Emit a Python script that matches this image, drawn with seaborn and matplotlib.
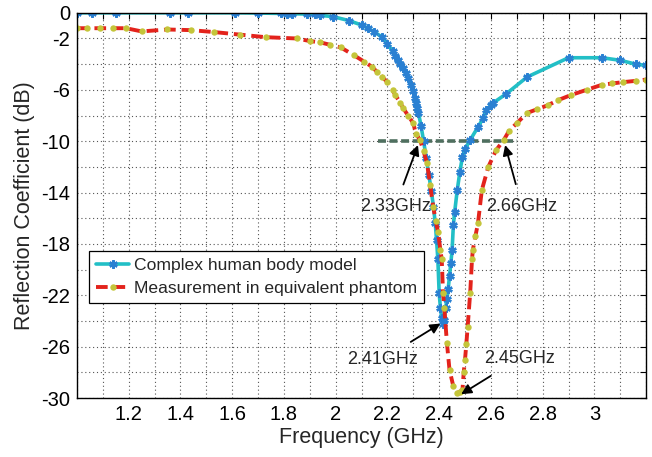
import numpy as np
import pandas as pd
import matplotlib
matplotlib.use("Agg")
import matplotlib.pyplot as plt
import seaborn as sns

# Complex human body model (simulation)
sim_freq = [1.00, 1.06, 1.15, 1.36, 1.43, 1.61, 1.70, 1.79, 1.81, 1.83, 1.89, 1.92,
            1.94, 1.99, 2.05, 2.10, 2.125, 2.15, 2.18, 2.20, 2.22, 2.23, 2.24, 2.25,
            2.26, 2.27, 2.28, 2.29, 2.30, 2.305, 2.31, 2.315, 2.32, 2.33, 2.34, 2.35,
            2.36, 2.37, 2.378, 2.385, 2.39, 2.395, 2.40, 2.405, 2.41, 2.415, 2.42,
            2.425, 2.43, 2.435, 2.44, 2.445, 2.45, 2.455, 2.46, 2.47, 2.48, 2.49,
            2.50, 2.52, 2.55, 2.57, 2.58, 2.60, 2.61, 2.66, 2.74, 2.90, 3.03, 3.10,
            3.16, 3.20]
sim_db = [0.0, 0.0, 0.0, 0.0, 0.0, 0.0, -0.02, -0.05, -0.06, -0.07, -0.1, -0.12,
          -0.2, -0.3, -0.6, -0.95, -1.2, -1.5, -1.9, -2.4, -3.0, -3.4, -3.7, -4.0,
          -4.3, -4.7, -5.1, -5.6, -6.1, -6.6, -7.0, -7.4, -7.8, -8.8, -10.0, -11.3,
          -12.6, -13.9, -15.1, -16.4, -17.7, -19.2, -21.8, -23.0, -23.8, -24.2, -23.9,
          -23.0, -22.3, -21.5, -20.5, -19.5, -18.5, -16.5, -15.5, -13.8, -12.4, -11.2,
          -10.6, -9.9, -8.9, -8.2, -7.6, -7.2, -7.0, -6.3, -5.0, -3.5, -3.5, -3.7,
          -4.0, -4.1]

# Measurement in equivalent phantom
meas_freq = [1.00, 1.04, 1.09, 1.14, 1.19, 1.25, 1.35, 1.44, 1.53, 1.63, 1.73, 1.85,
             1.90, 1.94, 1.98, 2.02, 2.07, 2.11, 2.14, 2.16, 2.18, 2.20, 2.22, 2.23,
             2.25, 2.26, 2.28, 2.30, 2.31, 2.326, 2.34, 2.353, 2.365, 2.377, 2.387,
             2.396, 2.405, 2.41, 2.415, 2.42, 2.43, 2.44, 2.455, 2.47, 2.48, 2.49,
             2.495, 2.50, 2.505, 2.51, 2.52, 2.527, 2.53, 2.54, 2.55, 2.565, 2.59,
             2.62, 2.65, 2.67, 2.70, 2.74, 2.78, 2.82, 2.86, 2.91, 2.97, 3.03, 3.07,
             3.11, 3.16, 3.20]
meas_db = [-1.2, -1.2, -1.2, -1.2, -1.2, -1.45, -1.3, -1.35, -1.5, -1.7, -1.9, -2.0,
           -2.2, -2.3, -2.5, -2.7, -3.3, -3.8, -4.2, -4.6, -5.0, -5.4, -6.0, -6.4,
           -7.0, -7.4, -8.0, -8.6, -9.4, -9.9, -10.8, -11.7, -13.4, -15.1, -16.2,
           -17.1, -18.5, -19.2, -21.8, -23.0, -25.7, -27.8, -29.1, -29.6, -29.5, -29.4,
           -28.0, -27.0, -25.8, -24.5, -21.8, -19.2, -18.5, -17.4, -16.4, -13.8, -12.0,
           -10.7, -9.9, -9.2, -8.6, -7.8, -7.5, -7.2, -6.8, -6.4, -6.0, -5.6, -5.5,
           -5.4, -5.3, -5.2]

# -10 dB bandwidth marker
bw_freq = [2.165, 2.70]
bw_db = [-10, -10]

annotations = [
    ("2.33GHz", (2.318, -10.3), (2.23, -15.1)),
    ("2.66GHz", (2.655, -10.3), (2.72, -15.1)),
    ("2.41GHz", (2.405, -24.2), (2.18, -27.0)),
    ("2.45GHz", (2.485, -29.7), (2.71, -26.9)),
]

sim = pd.DataFrame({"freq": sim_freq, "db": sim_db})
meas = pd.DataFrame({"freq": meas_freq, "db": meas_db})
bw = pd.DataFrame({"freq": bw_freq, "db": bw_db})

sns.set_style("white")
plt.rcParams['font.family'] = ['Liberation Sans', 'DejaVu Sans']

fig = plt.figure(figsize=(6.52, 4.57), dpi=100)
ax = fig.add_axes([0.118, 0.129, 0.873, 0.843])

sns.lineplot(data=bw, x="freq", y="db", ax=ax, color="#4f6f5f", lw=2.6,
             dashes=False, linestyle=(0, (2.2, 1.0)), estimator=None, sort=False)
sns.lineplot(data=sim, x="freq", y="db", ax=ax, color="#22bfc6", lw=2.6,
             marker=(6, 2, 0), markersize=6, markeredgewidth=1.7,
             markeredgecolor="#2a80d2", markerfacecolor="#2a80d2",
             estimator=None, sort=False, label="Complex human body model")
sns.lineplot(data=meas, x="freq", y="db", ax=ax, color="#e3231c", lw=2.8,
             linestyle=(0, (3.0, 1.5)), marker="o", markersize=4.6,
             markeredgewidth=0, markerfacecolor="#c4c53a",
             estimator=None, sort=False, label="Measurement in equivalent phantom")

for text, xy, xytext in annotations:
    ax.annotate(text, xy=xy, xytext=xytext, fontsize=13, ha="center", va="center",
                arrowprops=dict(arrowstyle="-|>", color="black", lw=1.3,
                                mutation_scale=15, shrinkA=8, shrinkB=0))

ax.set_xlim(1.0, 3.2)
ax.set_ylim(-30, 0)
xt = np.round(np.arange(1.0, 3.21, 0.1), 1)
ax.set_xticks(xt)
ax.set_xticklabels([f"{v:g}" if (round(v * 10) % 2 == 0 and 1.1 < v < 3.1) else "" for v in xt])
yt = np.arange(0, -31, -2)
ax.set_yticks(yt)
ax.set_yticklabels([f"{v}" if (v == 0 or (v + 2) % 4 == 0) else "" for v in yt])
ax.tick_params(direction="in", top=True, right=True, length=4, width=0.8,
               labelsize=14.5, colors="black", pad=5)
ax.grid(True, linestyle=(0, (1, 2.5)), color="#555555", lw=0.8)
for s in ax.spines.values():
    s.set_color("black")
    s.set_linewidth(1.0)

ax.set_xlabel("Frequency (GHz)", fontsize=15.5, labelpad=2)
ax.set_ylabel("Reflection Coefficient (dB)", fontsize=15.5, labelpad=4)

leg = ax.legend(loc="upper left", bbox_to_anchor=(0.021, 0.382), fontsize=12.6,
                frameon=True, fancybox=False, framealpha=1, edgecolor="black",
                handlelength=1.9, handletextpad=0.25, borderpad=0.4, labelspacing=0.45,
                borderaxespad=0)
leg.get_frame().set_linewidth(0.9)

fig.savefig("out.png", dpi=100)
